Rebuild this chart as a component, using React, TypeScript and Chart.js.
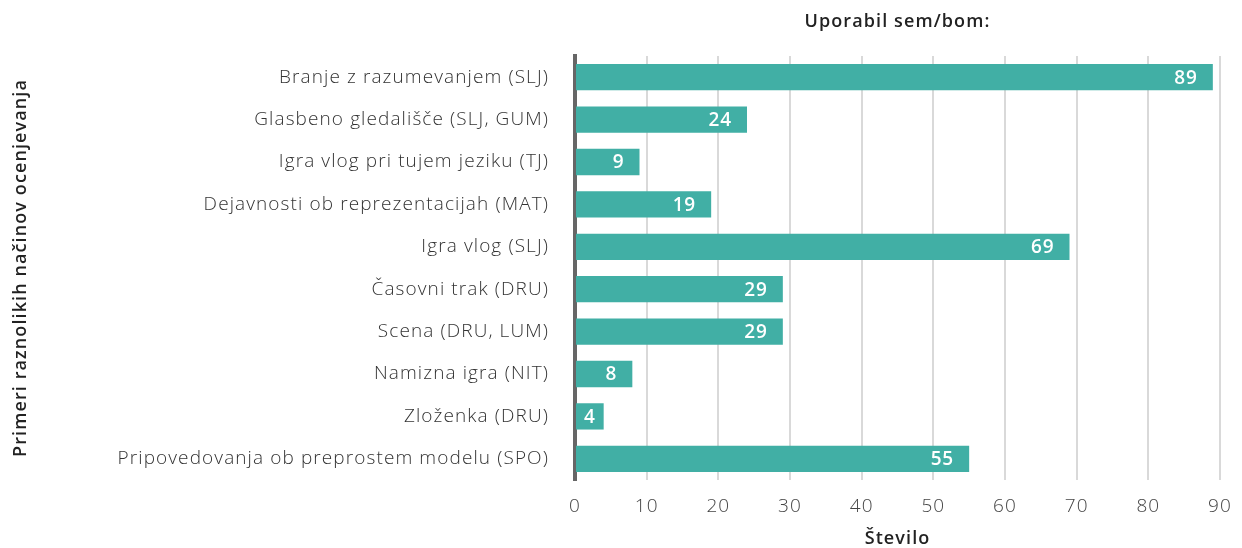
import React, { useEffect, useRef } from "react";
import { Chart, registerables } from "chart.js";

Chart.register(...registerables);

const categories = [
  "Branje z razumevanjem (SLJ)",
  "Glasbeno gledališče (SLJ, GUM)",
  "Igra vlog pri tujem jeziku (TJ)",
  "Dejavnosti ob reprezentacijah (MAT)",
  "Igra vlog (SLJ)",
  "Časovni trak (DRU)",
  "Scena (DRU, LUM)",
  "Namizna igra (NIT)",
  "Zloženka (DRU)",
  "Pripovedovanja ob preprostem modelu (SPO)",
];
const values = [89, 24, 9, 19, 69, 29, 29, 8, 4, 55];
const xTicks = [0, 10, 20, 30, 40, 50, 60, 70, 80, 90];

const FONT = "'Open Sans', sans-serif";
const BAR = "#41afa5";
const SPACING = "1.1px";

const spacingPlugin = {
  id: "spacing",
  beforeLayout(chart: any) {
    chart.ctx.letterSpacing = SPACING;
  },
  beforeDraw(chart: any) {
    chart.ctx.letterSpacing = SPACING;
  },
};

const labelPlugin = {
  id: "barLabels",
  afterDatasetsDraw(chart: any) {
    const ctx = chart.ctx;
    const meta = chart.getDatasetMeta(0);
    ctx.save();
    ctx.letterSpacing = "0.8px";
    ctx.fillStyle = "#ffffff";
    ctx.font = `600 19px ${FONT}`;
    ctx.textBaseline = "middle";
    ctx.textAlign = "left";
    meta.data.forEach((el: any, i: number) => {
      const txt = String(values[i]);
      const w = ctx.measureText(txt).width - 0.8;
      let left = el.x - 16 - w;
      if (left < el.base + 8) left = el.base + 8;
      ctx.fillText(txt, left, el.y + 1);
    });
    ctx.restore();
  },
};

export default function App() {
  const ref = useRef<HTMLCanvasElement>(null);
  useEffect(() => {
    const chart = new Chart(ref.current!, {
      type: "bar",
      data: {
        labels: categories,
        datasets: [
          {
            data: values,
            backgroundColor: BAR,
            barPercentage: 0.62,
            categoryPercentage: 1,
          },
        ],
      },
      plugins: [spacingPlugin, labelPlugin],
      options: {
        indexAxis: "y",
        animation: false,
        responsive: false,
        maintainAspectRatio: false,
        layout: { padding: { left: 0, right: 22, top: 0, bottom: 0 } },
        plugins: {
          legend: { display: false },
          tooltip: { enabled: false },
          title: {
            display: true,
            text: "Uporabil sem/bom:",
            fullSize: false,
            color: "#222222",
            font: { family: FONT, size: 18, weight: "600", lineHeight: 1.2 },
            padding: { top: 11, bottom: 23.4 },
          },
        },
        scales: {
          x: {
            type: "linear",
            min: 0,
            max: 90,
            afterBuildTicks(scale: any) {
              scale.ticks = xTicks.map((v) => ({ value: v }));
            },
            afterFit(scale: any) {
              scale.height = 68;
              scale.paddingRight = 0;
              scale.paddingLeft = 0;
            },
            grid: {
              color: "#d9d9d9",
              lineWidth: 2,
              drawTicks: false,
            },
            border: { display: false },
            ticks: {
              color: "#444444",
              padding: 15,
              font: { family: FONT, size: 19, weight: "300" },
            },
            title: {
              display: true,
              text: "Število",
              color: "#222222",
              font: { family: FONT, size: 18, weight: "600", lineHeight: 1.2 },
              padding: { top: 0, bottom: -2 },
            },
          },
          y: {
            afterFit(scale: any) {
              scale.width = 575;
            },
            grid: { display: false, drawTicks: false },
            border: { display: true, color: "#666666", width: 4 },
            ticks: {
              color: "#333333",
              padding: 26,
              font: { family: FONT, size: 19, weight: "300" },
            },
            title: {
              display: true,
              text: "Primeri raznolikih načinov ocenjevanja",
              color: "#222222",
              font: { family: FONT, size: 18, weight: "600", lineHeight: 1.2 },
              padding: { top: 10, bottom: 0 },
            },
          },
        },
      },
    } as any);
    return () => chart.destroy();
  }, []);
  return (
    <div style={{ position: "absolute", left: 0, top: 0, width: 1242, height: 548 }}>
      <canvas ref={ref} width={1242} height={548} style={{ display: "block" }} />
    </div>
  );
}
